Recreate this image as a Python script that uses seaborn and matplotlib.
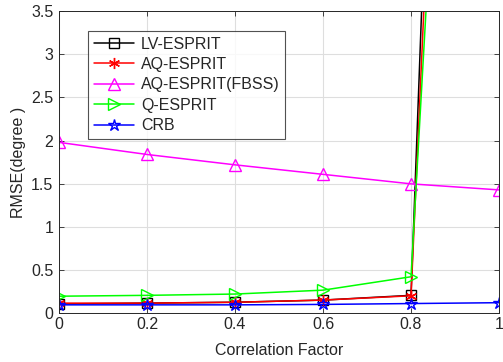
import matplotlib
matplotlib.use("Agg")
import matplotlib.pyplot as plt
import seaborn as sns

sns.set_theme(style="ticks")
plt.rcParams['font.family'] = ['Liberation Sans', 'DejaVu Sans']

x = [0, 0.2, 0.4, 0.6, 0.8, 1.0]
lv_esprit = [0.11, 0.12, 0.13, 0.155, 0.21, 27.6]
aq_esprit = [0.12, 0.12, 0.13, 0.155, 0.205, 22.9]
aq_fbss = [1.98, 1.84, 1.72, 1.61, 1.50, 1.43]
q_esprit = [0.20, 0.21, 0.225, 0.27, 0.425, 18.5]
crb = [0.10, 0.10, 0.10, 0.105, 0.115, 0.125]

series = [
    ("LV-ESPRIT", lv_esprit, "black", "s", 7),
    ("AQ-ESPRIT", aq_esprit, "red", (6, 2, 0), 8),
    ("AQ-ESPRIT(FBSS)", aq_fbss, "magenta", "^", 9),
    ("Q-ESPRIT", q_esprit, "#00ff00", ">", 9),
    ("CRB", crb, "blue", "*", 9),
]

fs = 11.5
fig = plt.figure(figsize=(5.03, 3.62), dpi=100)
ax = fig.add_axes([0.1173, 0.134, 0.8748, 0.8356])

for name, vals, col, mk, ms in series:
    sns.lineplot(x=x, y=vals, ax=ax, color=col, marker=mk, markersize=ms,
                 markerfacecolor='none', markeredgecolor=col, markeredgewidth=1.0,
                 linewidth=1.1, label=name)

ax.set_xlim(0, 1)
ax.set_ylim(0, 3.5)
ax.set_xticks([0, 0.2, 0.4, 0.6, 0.8, 1])
ax.set_xticklabels(["0", "0.2", "0.4", "0.6", "0.8", "1"])
ax.set_yticks([0, 0.5, 1, 1.5, 2, 2.5, 3, 3.5])
ax.set_yticklabels(["0", "0.5", "1", "1.5", "2", "2.5", "3", "3.5"])
ax.grid(True, color="#dedede", linewidth=0.8)
ax.set_axisbelow(True)
ax.tick_params(direction="in", length=3.3, width=0.6, colors="#262626",
               labelsize=fs, top=True, right=True)
ax.tick_params(axis="x", pad=2.5)
ax.tick_params(axis="y", pad=4)
for s in ax.spines.values():
    s.set_color("#262626")
    s.set_linewidth(0.7)
ax.set_xlabel("Correlation Factor", fontsize=fs, color="#262626", labelpad=8)
ax.set_ylabel("RMSE(degree )", fontsize=fs, color="#262626", labelpad=4)

leg = ax.legend(loc="upper left", bbox_to_anchor=(0.066, 0.934), fontsize=fs,
                frameon=True, fancybox=False, edgecolor="#262626",
                handlelength=2.5, borderpad=0.35, labelspacing=0.34,
                handletextpad=0.45, borderaxespad=0)
leg.get_frame().set_linewidth(0.8)

fig.savefig("out.png", dpi=100)
